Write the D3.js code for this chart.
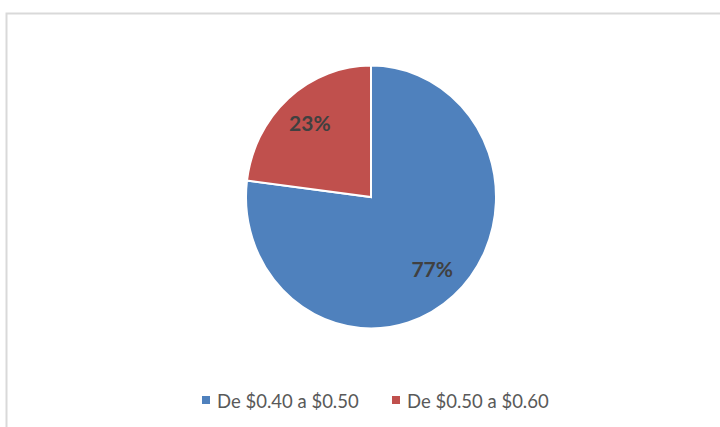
<!DOCTYPE html>
<html>
<head>
<meta charset="utf-8">
<script src="https://cdn.jsdelivr.net/npm/d3@7"></script>
<style>
  body { margin: 0; background: #fff; }
  text { font-family: Lato, "Open Sans", sans-serif; }
</style>
</head>
<body>
<div class="canvas"></div>
<script>
const categories = ['De $0.40 a $0.50', 'De $0.50 a $0.60'];
const values = [77, 23];
const colors = ['#4F81BD', '#C0504D'];

const data = categories.map((c, i) => ({ name: c, value: values[i], color: colors[i] }));

const svg = d3.select('.canvas')
  .append('svg')
  .attr('width', 720)
  .attr('height', 427);

// chart area border (top and left visible)
svg.append('path')
  .attr('d', 'M6.5,427 L6.5,13.5 L720,13.5')
  .attr('fill', 'none')
  .attr('stroke', '#d9d9d9')
  .attr('stroke-width', 2);

const r = 125;
const graph = svg.append('g')
  .attr('transform', 'translate(371, 197) scale(1, 1.052)');

const pie = d3.pie()
  .sort(null)
  .value(d => d.value);

const arc = d3.arc()
  .innerRadius(0)
  .outerRadius(r);

const labelArc = d3.arc()
  .innerRadius(r * 0.74)
  .outerRadius(r * 0.74);

const slices = pie(data);

graph.selectAll('path.slice')
  .data(slices)
  .enter()
  .append('path')
  .attr('class', 'slice')
  .attr('d', arc)
  .attr('fill', d => d.data.color)
  .attr('stroke', '#fff')
  .attr('stroke-width', 2)
  .attr('stroke-linejoin', 'miter');

// labels (outside the scaled group so text is not stretched)
svg.selectAll('text.pct')
  .data(slices)
  .enter()
  .append('text')
  .attr('class', 'pct')
  .attr('x', d => 371 + labelArc.centroid(d)[0])
  .attr('y', d => 197 + labelArc.centroid(d)[1] * 1.052)
  .attr('text-anchor', 'middle')
  .attr('dy', '0.35em')
  .attr('font-size', 21)
  .attr('font-weight', 'bold')
  .attr('fill', '#404040')
  .text(d => d.data.value + '%');

// legend
const legendX = [202, 392];
const legend = svg.selectAll('g.legend')
  .data(data)
  .enter()
  .append('g')
  .attr('class', 'legend')
  .attr('transform', (d, i) => `translate(${legendX[i]}, 402)`);

legend.append('rect')
  .attr('x', 0)
  .attr('y', -6)
  .attr('width', 8)
  .attr('height', 8)
  .attr('fill', d => d.color);

legend.append('text')
  .attr('x', 15)
  .attr('y', 0)
  .attr('dy', '0.35em')
  .attr('font-size', 18.5)
  .attr('fill', '#595959')
  .text(d => d.name);
</script>
</body>
</html>
